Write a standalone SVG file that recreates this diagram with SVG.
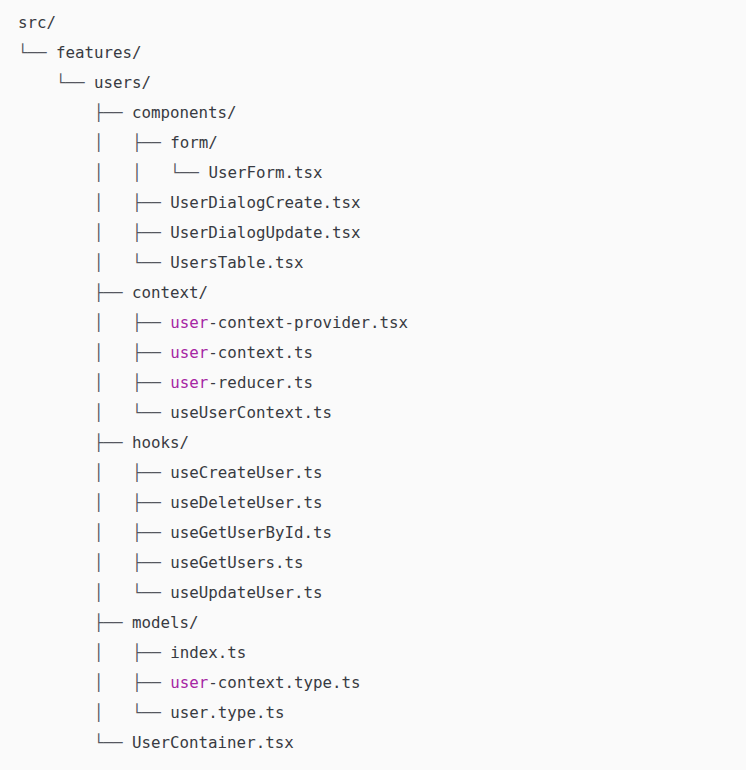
<svg xmlns="http://www.w3.org/2000/svg" width="746" height="770" viewBox="0 0 746 770">
<style>
text{font-family:"DejaVu Sans Mono","Liberation Mono",monospace;font-size:15.8px;fill:#383a42;}
.t{fill:#55575f;white-space:pre;}
.k{fill:#a626a4;}
</style>
<rect x="0" y="0" width="746" height="770" fill="#fafafa"/>
<g id="connectors">
<text class="t" xml:space="preserve" x="18" y="58">└──</text>
<text class="t" xml:space="preserve" x="18" y="88">    └──</text>
<text class="t" xml:space="preserve" x="18" y="118">        ├──</text>
<text class="t" xml:space="preserve" x="18" y="148">        │   ├──</text>
<text class="t" xml:space="preserve" x="18" y="178">        │   │   └──</text>
<text class="t" xml:space="preserve" x="18" y="208">        │   ├──</text>
<text class="t" xml:space="preserve" x="18" y="238">        │   ├──</text>
<text class="t" xml:space="preserve" x="18" y="268">        │   └──</text>
<text class="t" xml:space="preserve" x="18" y="298">        ├──</text>
<text class="t" xml:space="preserve" x="18" y="328">        │   ├──</text>
<text class="t" xml:space="preserve" x="18" y="358">        │   ├──</text>
<text class="t" xml:space="preserve" x="18" y="388">        │   ├──</text>
<text class="t" xml:space="preserve" x="18" y="418">        │   └──</text>
<text class="t" xml:space="preserve" x="18" y="448">        ├──</text>
<text class="t" xml:space="preserve" x="18" y="478">        │   ├──</text>
<text class="t" xml:space="preserve" x="18" y="508">        │   ├──</text>
<text class="t" xml:space="preserve" x="18" y="538">        │   ├──</text>
<text class="t" xml:space="preserve" x="18" y="568">        │   ├──</text>
<text class="t" xml:space="preserve" x="18" y="598">        │   └──</text>
<text class="t" xml:space="preserve" x="18" y="628">        ├──</text>
<text class="t" xml:space="preserve" x="18" y="658">        │   ├──</text>
<text class="t" xml:space="preserve" x="18" y="688">        │   ├──</text>
<text class="t" xml:space="preserve" x="18" y="718">        │   └──</text>
<text class="t" xml:space="preserve" x="18" y="748">        └──</text>
</g>
<g id="src"><text x="18" y="28">src/</text></g>
<g id="features"><text x="56" y="58">features/</text></g>
<g id="users"><text x="94" y="88">users/</text></g>
<g id="components"><text x="132" y="118">components/</text></g>
<g id="form"><text x="170.3" y="148">form/</text></g>
<g id="userform"><text x="208.4" y="178">UserForm.tsx</text></g>
<g id="userdialogcreate"><text x="170.3" y="208">UserDialogCreate.tsx</text></g>
<g id="userdialogupdate"><text x="170.3" y="238">UserDialogUpdate.tsx</text></g>
<g id="userstable"><text x="170.3" y="268">UsersTable.tsx</text></g>
<g id="context"><text x="132" y="298">context/</text></g>
<g id="user-context-provider"><text x="170.3" y="328"><tspan class="k">user</tspan>-context-provider.tsx</text></g>
<g id="user-context"><text x="170.3" y="358"><tspan class="k">user</tspan>-context.ts</text></g>
<g id="user-reducer"><text x="170.3" y="388"><tspan class="k">user</tspan>-reducer.ts</text></g>
<g id="useusercontext"><text x="170.3" y="418">useUserContext.ts</text></g>
<g id="hooks"><text x="132" y="448">hooks/</text></g>
<g id="usecreateuser"><text x="170.3" y="478">useCreateUser.ts</text></g>
<g id="usedeleteuser"><text x="170.3" y="508">useDeleteUser.ts</text></g>
<g id="usegetuserbyid"><text x="170.3" y="538">useGetUserById.ts</text></g>
<g id="usegetusers"><text x="170.3" y="568">useGetUsers.ts</text></g>
<g id="useupdateuser"><text x="170.3" y="598">useUpdateUser.ts</text></g>
<g id="models"><text x="132" y="628">models/</text></g>
<g id="index"><text x="170.3" y="658">index.ts</text></g>
<g id="user-context-type"><text x="170.3" y="688"><tspan class="k">user</tspan>-context.type.ts</text></g>
<g id="user-type"><text x="170.3" y="718">user.type.ts</text></g>
<g id="usercontainer"><text x="132" y="748">UserContainer.tsx</text></g>
</svg>
